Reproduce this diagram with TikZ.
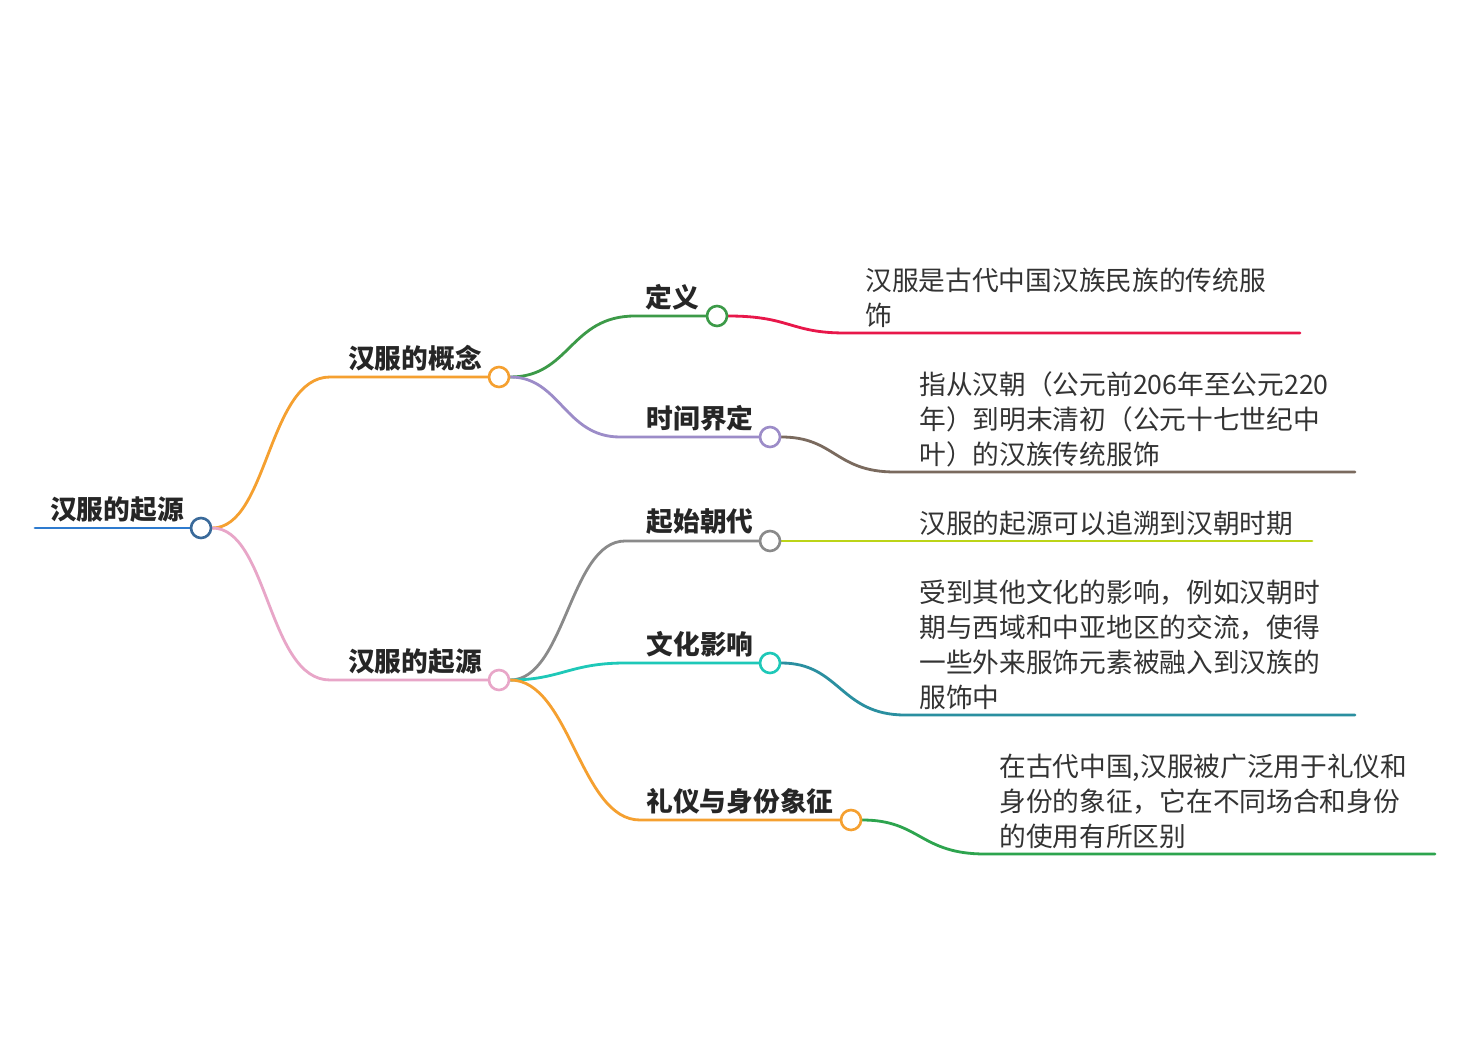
\documentclass[tikz,border=0pt]{standalone}
\usepackage{fontspec}
\setmainfont{Noto Sans CJK SC}
\usetikzlibrary{backgrounds}
\definecolor{rootblue}{HTML}{2E7BCF}
\definecolor{rootring}{HTML}{3A6A9A}
\definecolor{orangeA}{HTML}{F5A030}
\definecolor{pinkA}{HTML}{E8A6C8}
\definecolor{greenA}{HTML}{3C9A48}
\definecolor{purpleA}{HTML}{9C8CC8}
\definecolor{grayA}{HTML}{8A8A8A}
\definecolor{cyanA}{HTML}{1EC8B8}
\definecolor{redA}{HTML}{E8174A}
\definecolor{brownA}{HTML}{7A6A5E}
\definecolor{ygA}{HTML}{BCD418}
\definecolor{tealA}{HTML}{2A8FA0}
\definecolor{greenB}{HTML}{2DA44E}
\begin{document}
\begin{tikzpicture}[x=0.02cm,y=-0.02cm,
  dot/.style={circle,draw,fill=white,line width=1.5pt,minimum size=0.4cm,inner sep=0},
  lbl/.style={font=\fontsize{15.2}{20}\selectfont\bfseries,text=black!85,inner sep=0},
  leaf/.style={font=\fontsize{15.2}{19.9}\selectfont,text=black!80,align=left,anchor=west,inner sep=0},
  wire/.style={line width=1.6pt,line cap=round}]
\useasboundingbox (0,0) rectangle (1469,1050);

% root
\node[lbl] (root) at (117,510) {汉服的起源};
\coordinate (rs) at (35,528);
\node[dot,draw=rootring] (c0) at (201,528) {};

% level 1
\node[lbl] (l1a) at (415,358) {汉服的概念};
\node[dot,draw=orangeA] (c1) at (499,377) {};
\node[lbl] (l1b) at (415,662) {汉服的起源};
\node[dot,draw=pinkA] (c2) at (499,680) {};

% level 2
\node[lbl] (l2a) at (672,297) {定义};
\node[dot,draw=greenA] (d1) at (717,316) {};
\node[lbl] (l2b) at (700,418) {时间界定};
\node[dot,draw=purpleA] (d2) at (770,437) {};
\node[lbl] (l2c) at (700,522) {起始朝代};
\node[dot,draw=grayA] (d3) at (770,541) {};
\node[lbl] (l2d) at (700,644) {文化影响};
\node[dot,draw=cyanA] (d4) at (770,663) {};
\node[lbl] (l2e) at (740,801) {礼仪与身份象征};
\node[dot,draw=orangeA] (d5) at (851,820) {};

% leaves
\node[leaf] (t1) at (865,297.5) {汉服是古代中国汉族民族的传统服\\饰};
\coordinate (e1) at (1300,333);
\node[leaf] (t2) at (919,419) {指从汉朝（公元前206年至公元220\\年）到明末清初（公元十七世纪中\\叶）的汉族传统服饰};
\coordinate (e2) at (1355,472);
\node[leaf] (t3) at (919,523) {汉服的起源可以追溯到汉朝时期};
\coordinate (e3) at (1312,541);
\node[leaf] (t4) at (919,644.5) {受到其他文化的影响，例如汉朝时\\期与西域和中亚地区的交流，使得\\一些外来服饰元素被融入到汉族的\\服饰中};
\coordinate (e4) at (1355,715);
\node[leaf] (t5) at (999,801) {在古代中国,汉服被广泛用于礼仪和\\身份的象征，它在不同场合和身份\\的使用有所区别};
\coordinate (e5) at (1435,854);

\begin{scope}[on background layer]
\fill[white] (0,0) rectangle (1469,1050);
\draw[wire,rootblue] (rs) -- (c0);
\draw[wire,orangeA] (c0.east) .. controls (268,528) and (268,377) .. (330,377) -- (c1.west);
\draw[wire,pinkA] (c0.east) .. controls (268,528) and (268,680) .. (330,680) -- (c2.west);

\draw[wire,greenA] (c1.east) .. controls (570,377) and (570,316) .. (635,316) -- (d1.west);
\draw[wire,purpleA] (c1.east) .. controls (560,377) and (565,437) .. (620,437) -- (d2.west);
\draw[wire,grayA] (c2.east) .. controls (565,680) and (570,541) .. (625,541) -- (d3.west);
\draw[wire,cyanA] (c2.east) .. controls (560,680) and (570,663) .. (625,663) -- (d4.west);
\draw[wire,orangeA] (c2.east) .. controls (570,680) and (580,820) .. (640,820) -- (d5.west);

\draw[wire,redA] (d1.east) .. controls (790,316) and (790,333) .. (845,333) -- (e1);
\draw[wire,brownA] (d2.east) .. controls (835,437) and (835,472) .. (895,472) -- (e2);
\draw[wire,ygA] (d3.east) -- (e3);
\draw[wire,tealA] (d4.east) .. controls (840,663) and (840,715) .. (905,715) -- (e4);
\draw[wire,greenB] (d5.east) .. controls (920,820) and (920,854) .. (985,854) -- (e5);
\end{scope}
\end{tikzpicture}
\end{document}
